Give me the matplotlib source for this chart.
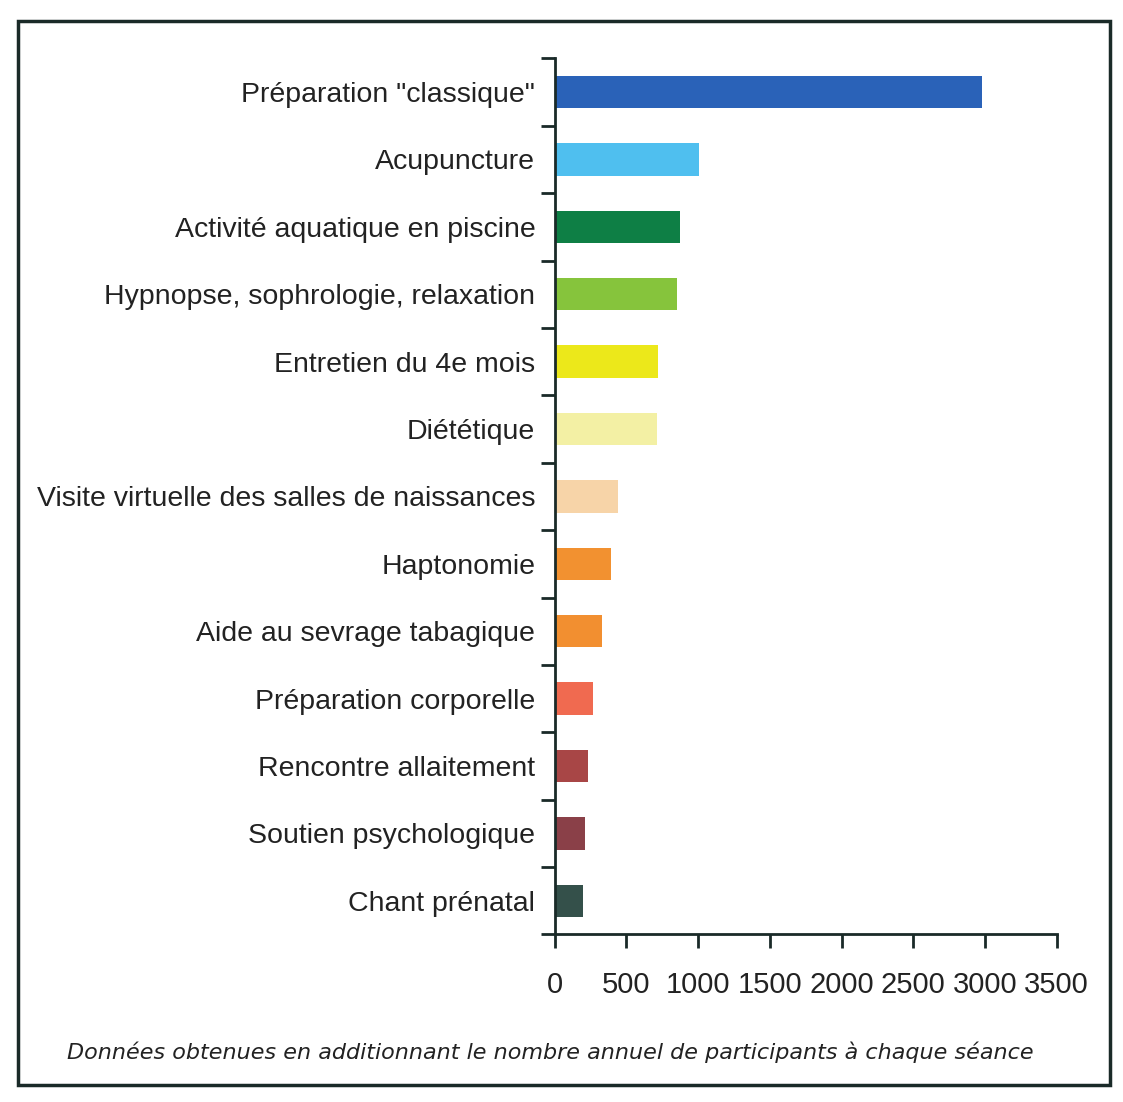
import matplotlib
matplotlib.use("Agg")
import matplotlib.pyplot as plt
from matplotlib.patches import Rectangle

# Categories (top to bottom) and annual number of participants
categories = [
    'Préparation "classique"',
    'Acupuncture',
    'Activité aquatique en piscine',
    'Hypnopse, sophrologie, relaxation',
    'Entretien du 4e mois',
    'Diététique',
    'Visite virtuelle des salles de naissances',
    'Haptonomie',
    'Aide au sevrage tabagique',
    'Préparation corporelle',
    'Rencontre allaitement',
    'Soutien psychologique',
    'Chant prénatal',
]
participants = [2980, 1005, 875, 855, 720, 715, 440, 395, 330, 265, 230, 210, 200]
bar_colors = ['#2a62b8', '#4fbfef', '#0e7f45', '#86c43c', '#ece81a', '#f3f0a4',
              '#f7d4a8', '#f29130', '#f28f30', '#f06a50', '#a84646', '#8a4048',
              '#34504a']
x_ticks = [0, 500, 1000, 1500, 2000, 2500, 3000, 3500]
caption = "Données obtenues en additionnant le nombre annuel de participants à chaque séance"

plt.rcParams['font.family'] = ['Liberation Sans', 'DejaVu Sans']

fig = plt.figure(figsize=(11.23, 11.02), dpi=100)
ax = fig.add_axes([0.494, 0.152, 0.447, 0.795])

n = len(categories)
ypos = list(range(n))[::-1]
ax.barh(ypos, participants, height=0.48, color=bar_colors)

ax.set_xlim(0, 3500)
ax.set_ylim(-0.5, n - 0.5)
ax.set_xticks(x_ticks)
ax.set_xticklabels([str(t) for t in x_ticks], fontsize=21, color='#222222')

# category labels between boundary ticks
ax.set_yticks(ypos)
ax.set_yticklabels(categories, fontsize=20.5, color='#222222')
ax.tick_params(axis='y', which='major', length=0, pad=14)
ax.set_yticks([i - 0.5 for i in range(n + 1)], minor=True)
ax.tick_params(axis='y', which='minor', length=10, width=2, color='#1a2a28')
ax.tick_params(axis='x', length=10, width=2, color='#1a2a28', pad=16)

for side in ['top', 'right']:
    ax.spines[side].set_visible(False)
for side in ['left', 'bottom']:
    ax.spines[side].set_linewidth(2)
    ax.spines[side].set_color('#1a2a28')

fig.text(0.49, 0.045, caption, ha='center', va='center', fontsize=16,
         style='italic', family=['DejaVu Sans'], color='#222222')

# outer frame
fig.patches.append(Rectangle((0.016, 0.015), 0.972, 0.966, transform=fig.transFigure,
                             fill=False, edgecolor='#1a2a28', linewidth=2.5))

fig.savefig('out.png', dpi=100)
